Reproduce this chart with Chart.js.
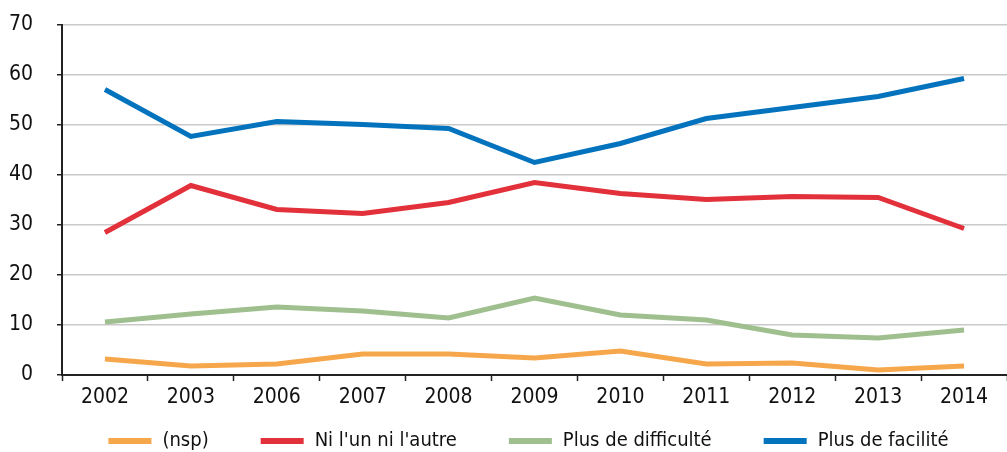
<!DOCTYPE html>
<html>
<head>
<meta charset="utf-8">
<script src="https://cdn.jsdelivr.net/npm/chart.js@4"></script>
<style>
  body { margin: 0; background: #fff; }
  #wrap { width: 1007px; height: 452px; }
</style>
</head>
<body>
<div id="wrap"><canvas id="chart"></canvas></div>
<script>
// categories (survey years)
var years = ['2002', '2003', '2006', '2007', '2008', '2009', '2010', '2011', '2012', '2013', '2014'];

// series values, in %
var nsp = [3.2, 1.8, 2.2, 4.2, 4.2, 3.4, 4.8, 2.2, 2.4, 1.0, 1.8];
var niLunNiLautre = [28.5, 37.9, 33.1, 32.3, 34.5, 38.5, 36.3, 35.1, 35.7, 35.5, 29.3];
var plusDifficulte = [10.6, 12.2, 13.6, 12.8, 11.4, 15.4, 12.0, 11.0, 8.0, 7.4, 9.0];
var plusFacilite = [57.1, 47.7, 50.7, 50.1, 49.3, 42.5, 46.3, 51.3, 53.5, 55.7, 59.3];

var yTicks = [0, 10, 20, 30, 40, 50, 60, 70];

var FONT = "'Liberation Sans Narrow', 'DejaVu Sans Condensed', sans-serif";

function serie(label, values, color) {
  return {
    label: label,
    data: values,
    borderColor: color,
    backgroundColor: color,
    borderWidth: 5,
    pointRadius: 0,
    tension: 0,
    fill: false
  };
}

// legend drawn under the axis with wide gaps between items (built-in legend
// can't widen the gap without also growing its height)
var bottomLegend = {
  id: 'bottomLegend',
  afterDraw: function (chart) {
    var ctx = chart.ctx;
    var area = chart.chartArea;
    var boxW = 43, boxH = 6, textGap = 11, itemGap = 52;
    var y = 441;
    ctx.save();
    ctx.font = '20px ' + FONT;
    var items = chart.data.datasets.map(function (ds) {
      return { text: ds.label, color: ds.borderColor, w: boxW + textGap + ctx.measureText(ds.label).width };
    });
    var total = items.reduce(function (s, it) { return s + it.w; }, 0) + itemGap * (items.length - 1);
    var x = (area.left + area.right) / 2 - total / 2 - 6;
    ctx.textBaseline = 'middle';
    ctx.textAlign = 'left';
    items.forEach(function (it) {
      ctx.fillStyle = it.color;
      ctx.fillRect(x, y - boxH / 2, boxW, boxH);
      ctx.fillStyle = '#111';
      ctx.fillText(it.text, x + boxW + textGap, y);
      x += it.w + itemGap;
    });
    ctx.restore();
  }
};

new Chart(document.getElementById('chart'), {
  type: 'line',
  data: {
    labels: years,
    datasets: [
      serie('(nsp)', nsp, '#f7a74b'),
      serie("Ni l'un ni l'autre", niLunNiLautre, '#e2313a'),
      serie('Plus de difficulté', plusDifficulte, '#9fbf8f'),
      serie('Plus de facilité', plusFacilite, '#0473bd')
    ]
  },
  options: {
    responsive: true,
    maintainAspectRatio: false,
    animation: false,
    layout: { padding: { top: 25, right: 0, left: 0, bottom: 0 } },
    plugins: {
      tooltip: { enabled: false },
      legend: { display: false }
    },
    scales: {
      x: {
        offset: true,
        // axis band also leaves room for the legend drawn below it
        afterFit: function (axis) { axis.height = 77; },
        grid: {
          offset: true,
          drawOnChartArea: false,
          drawTicks: true,
          tickLength: 6,
          tickColor: '#222',
          tickWidth: 1.5
        },
        border: { color: '#222', width: 2 },
        ticks: {
          color: '#111',
          font: { family: FONT, size: 21 },
          padding: 4,
          maxRotation: 0
        }
      },
      y: {
        min: 0,
        max: 70,
        afterFit: function (axis) {
          axis.width = 62;
          axis.paddingTop = 0;
          axis.paddingBottom = 0;
        },
        afterBuildTicks: function (axis) {
          axis.ticks = yTicks.map(function (v) { return { value: v }; });
        },
        grid: {
          color: '#c9c9c9',
          lineWidth: 1.5,
          tickLength: 5,
          tickColor: '#222'
        },
        border: { color: '#222', width: 2 },
        ticks: {
          color: '#111',
          font: { family: FONT, size: 21 },
          padding: 24
        }
      }
    }
  },
  plugins: [bottomLegend]
});
</script>
</body>
</html>
